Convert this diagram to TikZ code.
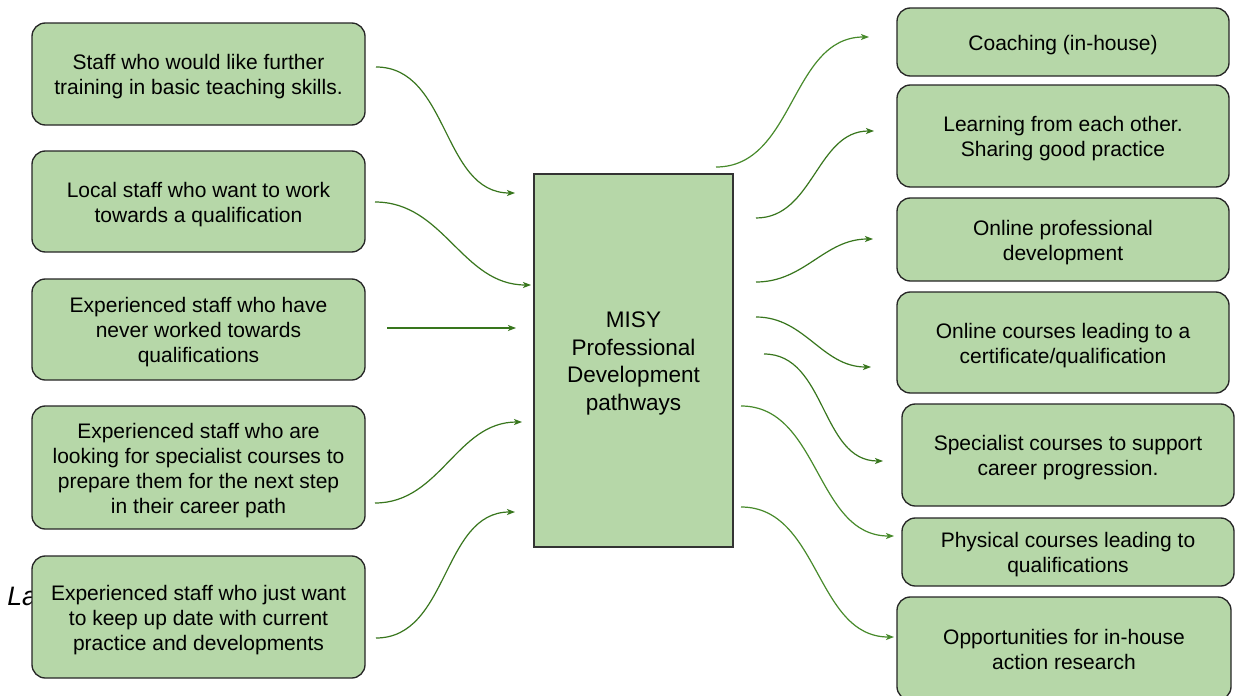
\documentclass[tikz,border=0pt]{standalone}
\usepackage{fontspec}
\setmainfont{Liberation Sans}
\usetikzlibrary{arrows.meta}
\definecolor{boxfill}{HTML}{B6D7A8}
\definecolor{arrdark}{HTML}{38761D}
\definecolor{arrlight}{HTML}{478A2B}
\newcommand\boxT{\rule{0pt}{16pt}}
\newcommand\boxB{\rule[-4pt]{0pt}{4pt}}
\newcommand\cenT{\rule{0pt}{17pt}}
\newcommand\cenB{\rule[-4.3pt]{0pt}{4.3pt}}
\tikzset{
  gbox/.style={draw=black!85, fill=boxfill, line width=1pt, rounded corners=10pt,
    align=center, inner sep=2pt,
    font=\fontsize{15.75pt}{18.75pt}\selectfont},
  cbox/.style={draw=black!80, fill=boxfill, line width=1pt,
    align=center, inner sep=2pt,
    font=\fontsize{16.9pt}{20.8pt}\selectfont},
  arr/.style={draw=arrdark, line width=0.9pt, -{Stealth[length=6pt,width=4.5pt,inset=1.5pt]}},
  arrl/.style={arr, draw=arrlight},
}
\begin{document}
\begin{tikzpicture}[x=0.75pt,y=-0.75pt]
\useasboundingbox (0,0) rectangle (1235,696);
\clip (0,0) rectangle (1235,696);
\fill[white] (0,0) rectangle (1235,696);
% partly hidden text
\node[anchor=base west, inner sep=0pt, font=\fontsize{20pt}{24pt}\selectfont\itshape] (la) at (7,605) {La};
% left boxes
\node[gbox, minimum width=249.75pt, minimum height=76.5pt] (l1) at (198.5,74) {\boxT Staff who would like further\\training in basic teaching skills.\boxB};
\node[gbox, minimum width=249.75pt, minimum height=75.75pt] (l2) at (198.5,201.5) {\boxT Local staff who want to work\\towards a qualification\boxB};
\node[gbox, minimum width=249.75pt, minimum height=75.75pt] (l3) at (198.5,329.5) {\boxT Experienced staff who have\\never worked towards\\qualifications\boxB};
\node[gbox, minimum width=249.75pt, minimum height=92.25pt] (l4) at (198.5,467.5) {\boxT Experienced staff who are\\looking for specialist courses to\\prepare them for the next step\\in their career path\boxB};
\node[gbox, minimum width=249.75pt, minimum height=91.5pt] (l5) at (198.5,617) {\boxT Experienced staff who just want\\to keep up date with current\\practice and developments\boxB};
% centre box
\node[cbox, minimum width=149.25pt, minimum height=279.75pt] (c) at (633.5,360.5) {\cenT MISY\\Professional\\Development\\pathways\cenB};
% right boxes
\node[gbox, minimum width=249pt, minimum height=51pt] (r1) at (1063,42) {\boxT Coaching (in-house)\boxB};
\node[gbox, minimum width=249pt, minimum height=76.5pt] (r2) at (1063,136) {\boxT Learning from each other.\\Sharing good practice\boxB};
\node[gbox, minimum width=249pt, minimum height=62.25pt] (r3) at (1063,239.5) {\boxT Online professional\\development\boxB};
\node[gbox, minimum width=249pt, minimum height=75.75pt] (r4) at (1063,342.5) {\boxT Online courses leading to a\\certificate/qualification\boxB};
\node[gbox, minimum width=249pt, minimum height=76.5pt] (r5) at (1068,455) {\boxT Specialist courses to support\\career progression.\boxB};
\node[gbox, minimum width=249pt, minimum height=51pt] (r6) at (1068,552) {\boxT Physical courses leading to\\qualifications\boxB};
\node[gbox, minimum width=250.5pt, minimum height=77.25pt] (r7) at (1064,648.5) {\boxT Opportunities for in-house\\action research\boxB};
% connector end points
\coordinate (l1s) at (376,67);  \coordinate (l1e) at (515,193);
\coordinate (l2s) at (375,202); \coordinate (l2e) at (531,285);
\coordinate (l3s) at (387,328); \coordinate (l3e) at (516,328);
\coordinate (l4s) at (375,503); \coordinate (l4e) at (522,422);
\coordinate (l5s) at (376,638); \coordinate (l5e) at (515,512);
\coordinate (r1s) at (716,167); \coordinate (r1e) at (869,37);
\coordinate (r2s) at (756,218); \coordinate (r2e) at (874,131);
\coordinate (r3s) at (756,282); \coordinate (r3e) at (873,239);
\coordinate (r4s) at (756,317); \coordinate (r4e) at (871,367);
\coordinate (r5s) at (764,354); \coordinate (r5e) at (883,461);
\coordinate (r6s) at (741,406); \coordinate (r6e) at (894,536);
\coordinate (r7s) at (741,507); \coordinate (r7e) at (894,637);
% connectors
\draw[arr] (l1s) to[out=0,in=180] (l1e);
\draw[arr] (l2s) to[out=0,in=180] (l2e);
\draw[arr] (l3s) -- (l3e);
\draw[arr] (l4s) to[out=0,in=180] (l4e);
\draw[arr] (l5s) to[out=0,in=180] (l5e);
\draw[arrl] (r1s) to[out=0,in=180] (r1e);
\draw[arr] (r2s) to[out=0,in=180] (r2e);
\draw[arr] (r3s) to[out=0,in=180] (r3e);
\draw[arr] (r4s) to[out=0,in=180] (r4e);
\draw[arr] (r5s) to[out=0,in=180] (r5e);
\draw[arrl] (r6s) to[out=0,in=180] (r6e);
\draw[arrl] (r7s) to[out=0,in=180] (r7e);
\end{tikzpicture}
\end{document}
